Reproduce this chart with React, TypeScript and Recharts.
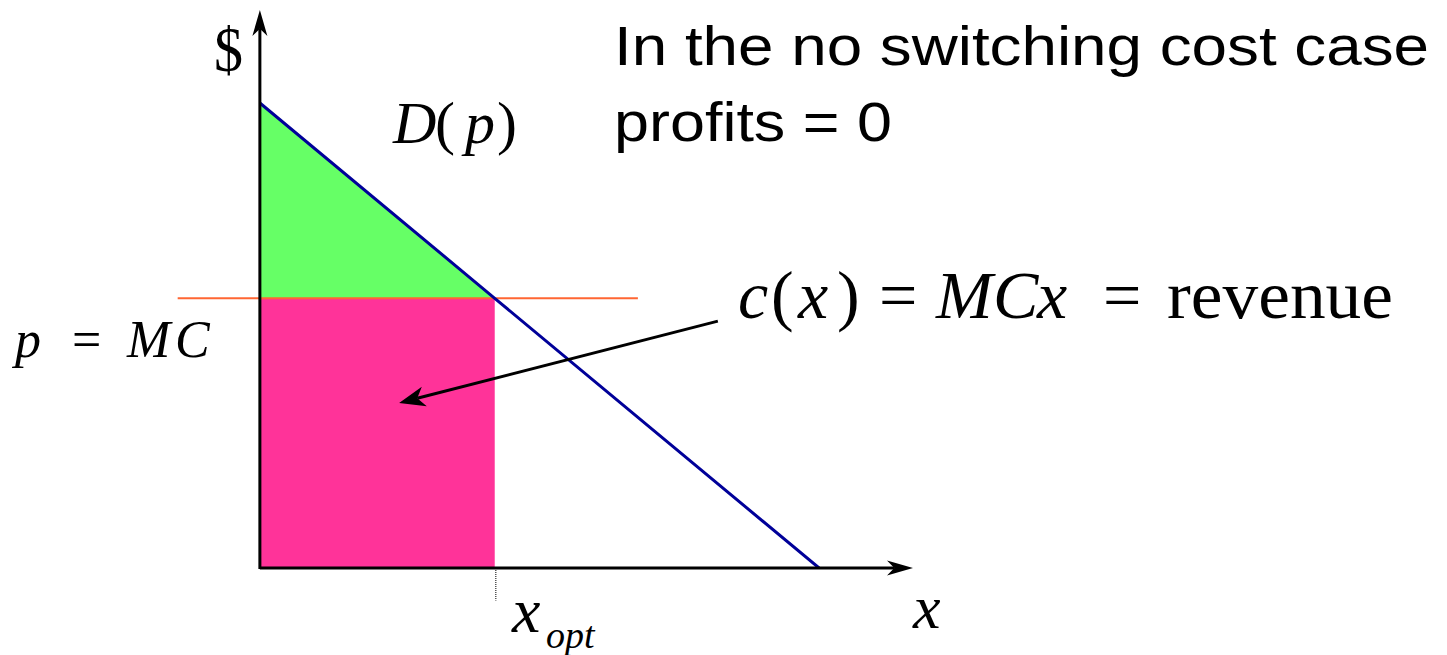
import React from "react";
import {
  ComposedChart,
  XAxis,
  YAxis,
  Line,
  Area,
  ReferenceArea,
  ReferenceLine,
} from "recharts";

// ---- data ----
const quantities = [0, 4.2, 10];
const demandPrices = [10, 5.8, 0];
const surplusLow = [5.8, 5.8, null];
const surplusHigh = [10, 5.8, null];
const MC = 5.8;
const X_OPT = 4.2;
const X_DOMAIN: [number, number] = [-1.5, 11.68];
const Y_DOMAIN: [number, number] = [0, 12];
const MC_LINE_X = [-1.47, 6.76];
const ARROW_FROM = { x: 8.19, y: 5.31 };
const ARROW_TO = { x: 2.49, y: 3.55 };

const chartData = quantities.map((q, i) => ({
  x: q,
  demand: demandPrices[i],
  surplus:
    surplusLow[i] === null ? null : [surplusLow[i] as number, surplusHigh[i] as number],
}));

const W = 1447;
const H = 655;

function arrowShape(headLen: number, headHalf: number, width: number, color: string) {
  return (props: any) => {
    const { x1, y1, x2, y2 } = props;
    if ([x1, y1, x2, y2].some((v) => typeof v !== "number" || isNaN(v))) return null;
    const dx = x2 - x1;
    const dy = y2 - y1;
    const len = Math.sqrt(dx * dx + dy * dy) || 1;
    const ux = dx / len;
    const uy = dy / len;
    const px = -uy;
    const py = ux;
    const bx = x2 - ux * headLen;
    const by = y2 - uy * headLen;
    const nx = x2 - ux * headLen * 0.72;
    const ny = y2 - uy * headLen * 0.72;
    const pts = [
      [x2, y2],
      [bx + px * headHalf, by + py * headHalf],
      [nx, ny],
      [bx - px * headHalf, by - py * headHalf],
    ]
      .map((p) => p.join(","))
      .join(" ");
    return (
      <g>
        <line x1={x1} y1={y1} x2={nx} y2={ny} stroke={color} strokeWidth={width} />
        <polygon points={pts} fill={color} />
      </g>
    );
  };
}

const serif = "'Liberation Serif', 'Times New Roman', serif";
const sans = "'Liberation Sans', Arial, sans-serif";

export default function App() {
  return (
    <div style={{ position: "absolute", left: 0, top: 0, width: W, height: H, background: "#fff" }}>
      <ComposedChart
        width={W}
        height={H}
        data={chartData}
        margin={{ top: 10, right: 534, bottom: 87, left: 176 }}
      >
        <XAxis type="number" dataKey="x" domain={X_DOMAIN} hide allowDataOverflow />
        <YAxis type="number" domain={Y_DOMAIN} hide allowDataOverflow />
        <ReferenceArea
          x1={0}
          x2={X_OPT}
          y1={0}
          y2={MC}
          fill="#FF3399"
          fillOpacity={1}
          stroke="none"
          ifOverflow="visible"
        />
        <Area
          type="linear"
          dataKey="surplus"
          fill="#66FF66"
          fillOpacity={1}
          stroke="none"
          isAnimationActive={false}
          connectNulls={false}
        />
        <ReferenceLine
          segment={[
            { x: MC_LINE_X[0], y: MC },
            { x: MC_LINE_X[1], y: MC },
          ]}
          stroke="#FF6633"
          strokeWidth={2}
          ifOverflow="visible"
        />
        <Line
          type="linear"
          dataKey="demand"
          stroke="#000099"
          strokeWidth={3}
          dot={false}
          activeDot={false}
          isAnimationActive={false}
        />
        <ReferenceLine
          segment={[
            { x: X_OPT + 0.02, y: 0 },
            { x: X_OPT + 0.02, y: -0.7 },
          ]}
          stroke="#000"
          strokeWidth={1}
          strokeDasharray="1 1"
          ifOverflow="visible"
        />
        <ReferenceLine
          segment={[
            { x: 0, y: 0 },
            { x: X_DOMAIN[1], y: 0 },
          ]}
          ifOverflow="visible"
          shape={arrowShape(26, 7.5, 3, "#000")}
        />
        <ReferenceLine
          segment={[
            { x: 0, y: -0.02 },
            { x: 0, y: Y_DOMAIN[1] },
          ]}
          ifOverflow="visible"
          shape={arrowShape(26, 7.5, 3, "#000")}
        />
        <ReferenceLine
          segment={[ARROW_FROM, ARROW_TO]}
          ifOverflow="visible"
          shape={arrowShape(26, 10, 3, "#000")}
        />
      </ComposedChart>
      <svg
        width={W}
        height={H}
        style={{ position: "absolute", left: 0, top: 0, pointerEvents: "none" }}
      >
        <text x={214} y={71} fontFamily={serif} fontSize={64} textLength={29} lengthAdjust="spacingAndGlyphs">
          $
        </text>
        <text fontFamily={serif} fontSize={60} y={143}>
          <tspan x={393} fontStyle="italic">D</tspan>
          <tspan x={435}>(</tspan>
          <tspan x={465} fontStyle="italic">p</tspan>
          <tspan x={497}>)</tspan>
        </text>
        <text x={614} y={65} fontFamily={sans} fontSize={56} textLength={815} lengthAdjust="spacingAndGlyphs">
          In the no switching cost case
        </text>
        <text x={614} y={141} fontFamily={sans} fontSize={56} textLength={278} lengthAdjust="spacingAndGlyphs">
          profits = 0
        </text>
        <text fontFamily={serif} fontSize={68} y={318}>
          <tspan x={738} fontStyle="italic">c</tspan>
          <tspan x={771}>(</tspan>
          <tspan x={798} fontStyle="italic">x</tspan>
          <tspan x={837}>)</tspan>
          <tspan x={879}>=</tspan>
          <tspan x={936} fontStyle="italic">M</tspan>
          <tspan x={993} fontStyle="italic">C</tspan>
          <tspan x={1037} fontStyle="italic">x</tspan>
          <tspan x={1103}>=</tspan>
        </text>
        <text x={1167} y={318} fontFamily={serif} fontSize={68} textLength={226} lengthAdjust="spacingAndGlyphs">
          revenue
        </text>
        <text fontFamily={serif} fontSize={52} y={357} fontStyle="italic">
          <tspan x={15}>p</tspan>
          <tspan x={72} fontStyle="normal">=</tspan>
          <tspan x={127}>M</tspan>
          <tspan x={175}>C</tspan>
        </text>
        <text fontFamily={serif} fontStyle="italic">
          <tspan x={512} y={632} fontSize={64}>x</tspan>
          <tspan x={546} y={648} fontSize={38}>opt</tspan>
        </text>
        <text x={913} y={628} fontFamily={serif} fontStyle="italic" fontSize={62}>
          x
        </text>
      </svg>
    </div>
  );
}
